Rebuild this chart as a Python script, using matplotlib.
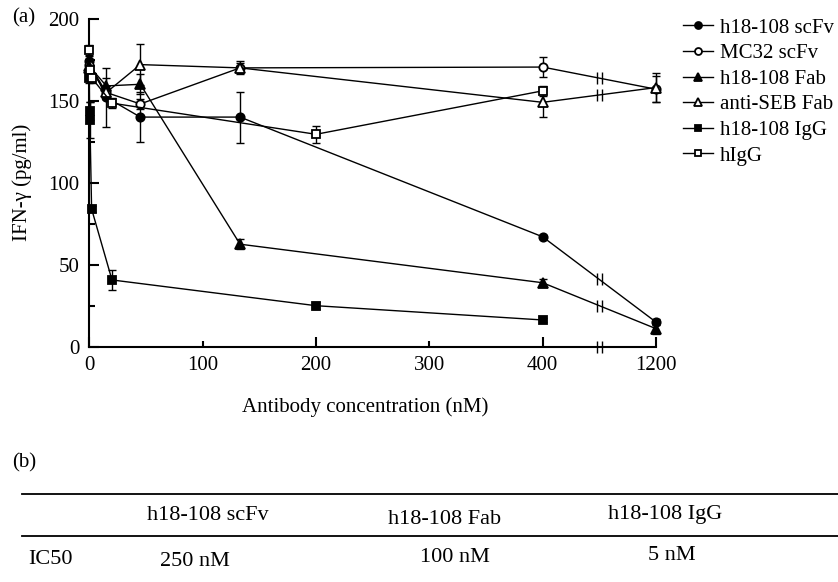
import numpy as np
import matplotlib
matplotlib.use("Agg")
import matplotlib.pyplot as plt
from matplotlib.lines import Line2D
from matplotlib.transforms import ScaledTranslation

plt.rcParams["font.family"] = ["Liberation Serif", "DejaVu Serif"]

# ---- data: IFN-gamma (pg/ml) vs antibody concentration (nM) ----
scfv_x = [0, 15, 45, 133, 400, 1200]
scfv_y = [174, 152, 140, 140, 67, 15]
scfv_e = [3, 18, 15, 15.5, 1, 2]

mc32_x = [0, 15, 45, 133, 400, 1200]
mc32_y = [172, 155, 148, 170, 170.5, 157]
mc32_e = [3, 4, 3, 3, 6, 8]

fab_x = [0, 15, 45, 133, 400, 1200]
fab_y = [171, 159, 160, 62.5, 39, 11]
fab_e = [3, 5, 6, 3, 2, 3]

seb_x = [0, 15, 45, 133, 400, 1200]
seb_y = [170, 155, 172, 170, 149, 158]
seb_e = [3, 4, 12.5, 4, 9, 9]

igg_x = [0, 0.2, 0.5, 2, 20, 200, 400]
igg_y = [164, 144, 138, 84, 40.7, 25, 16.3]
igg_e = [3, 5.5, 11, 2, 6, 2, 1]

higg_x = [0, 0.5, 2, 20, 200, 400]
higg_y = [181, 169, 164, 148.5, 129.5, 156]
higg_e = [3, 3, 3, 3, 5, 3]

labels = ["h18-108 scFv", "MC32 scFv", "h18-108 Fab", "anti-SEB Fab",
          "h18-108 IgG", "hIgG"]

x_ticks = [0, 100, 200, 300, 400, 1200]
y_ticks = [0, 50, 100, 150, 200]
y_minor = [25, 75, 125, 175]

table_cols = ["h18-108 scFv", "h18-108 Fab", "h18-108 IgG"]
table_row = "IC50"
table_vals = ["250 nM", "100 nM", "5 nM"]

# ---- broken x axis: 400..1200 nM compressed into one 100-unit step ----
BREAK = 800


def fwd(x):
    x = np.asarray(x, dtype=float)
    return np.where(x <= 400, x, 400 + (x - 400) / 8.0)


def inv(u):
    u = np.asarray(u, dtype=float)
    return np.where(u <= 400, u, 400 + (u - 400) * 8.0)


FS = 15

fig = plt.figure(figsize=(8.38, 5.82), dpi=100)
ax = fig.add_axes([0.1066, 0.4043, 0.6762, 0.5636])
ax.set_xscale("function", functions=(fwd, inv))
ax.set_xlim(0, 1200)
ax.set_ylim(0, 200)

series = [
    (scfv_x, scfv_y, scfv_e, "o", "black"),
    (mc32_x, mc32_y, mc32_e, "o", "white"),
    (fab_x, fab_y, fab_e, "^", "black"),
    (seb_x, seb_y, seb_e, "^", "white"),
    (igg_x, igg_y, igg_e, "s", "black"),
    (higg_x, higg_y, higg_e, "s", "white"),
]

handles = []
for (xs, ys, es, mk, fc), lab in zip(series, labels):
    ms = 7.0 if mk == "^" else 6.0
    ax.errorbar(xs, ys, yerr=es, fmt="none", ecolor="black",
                elinewidth=1.0, capsize=3, capthick=1.0, clip_on=False,
                zorder=2)
    ax.plot(xs, ys, color="black", lw=1.0, marker=mk, ms=ms,
            mfc=fc, mec="black", mew=1.3, clip_on=False, zorder=3)
    handles.append(Line2D([], [], color="black", lw=1.0, marker=mk,
                          ms=5.0 if mk != "^" else 6.0, mfc=fc,
                          mec="black", mew=1.3))

    # double slash on segments crossing the axis break
    if 400 in xs and 1200 in xs:
        y_mid = 0.5 * (ys[xs.index(400)] + ys[xs.index(1200)])
        for dx in (-1.6, 1.6):
            off = ScaledTranslation(dx / 72.0, 0, fig.dpi_scale_trans)
            ax.plot([BREAK], [y_mid], marker="|", ms=9, mew=1.0,
                    color="black", transform=ax.transData + off,
                    clip_on=False, zorder=4)

# break marks on the x axis itself
for dx in (-1.6, 1.6):
    off = ScaledTranslation(dx / 72.0, 0, fig.dpi_scale_trans)
    ax.plot([BREAK], [0], marker="|", ms=9, mew=1.0, color="black",
            transform=ax.transData + off, clip_on=False, zorder=4)

for s in ("top", "right"):
    ax.spines[s].set_visible(False)
for s in ("left", "bottom"):
    ax.spines[s].set_linewidth(1.5)

ax.set_xticks(x_ticks)
ax.set_xticklabels([str(t) for t in x_ticks])
ax.set_yticks(y_ticks)
ax.set_yticks(y_minor, minor=True)
ax.tick_params(axis="both", which="major", direction="in", length=7,
               width=1.5, labelsize=FS, pad=7)
ax.tick_params(axis="y", which="minor", direction="in", length=4.5,
               width=1.5)
ax.tick_params(axis="x", which="minor", bottom=False)
for i, t in enumerate(ax.xaxis.get_major_ticks()):
    if x_ticks[i] in (100, 300):
        t.tick1line.set_markersize(4.5)

ax.set_xlabel("Antibody concentration (nM)", fontsize=FS, labelpad=14)
ax.xaxis.set_label_coords(0.486, -0.155)
ax.set_ylabel("IFN-γ (pg/ml)", fontsize=FS, labelpad=12)

fig.text(12 / 838, 1 - 18 / 582, "(a)", fontsize=FS, va="center", ha="left")

fig.legend(handles, labels, loc="upper left",
           bbox_to_anchor=(683 / 838, 1 - 18 / 582), frameon=False,
           fontsize=FS, handlelength=1.45, handletextpad=0.33,
           labelspacing=0.29, borderaxespad=0, borderpad=0)

# ---- panel (b): IC50 table ----
TFS = 16
fig.text(12 / 838, 1 - 463 / 582, "(b)", fontsize=FS, va="center", ha="left")
for yy in (494, 536):
    fig.add_artist(Line2D([22 / 838, 1.0], [1 - yy / 582] * 2,
                          transform=fig.transFigure, color="black", lw=1.3))

col_x = [208, 445, 665]
head_y = [516, 520, 515]
val_x = [195, 455, 672]
val_y = [562, 557, 555]
for name, cx, cy in zip(table_cols, col_x, head_y):
    fig.text(cx / 838, 1 - cy / 582, name, fontsize=TFS, ha="center",
             va="center")
fig.text(28 / 838, 1 - 560 / 582, table_row, fontsize=TFS, ha="left",
         va="center")
for val, cx, cy in zip(table_vals, val_x, val_y):
    fig.text(cx / 838, 1 - cy / 582, val, fontsize=TFS, ha="center",
             va="center")

fig.savefig("out.png", dpi=100)
